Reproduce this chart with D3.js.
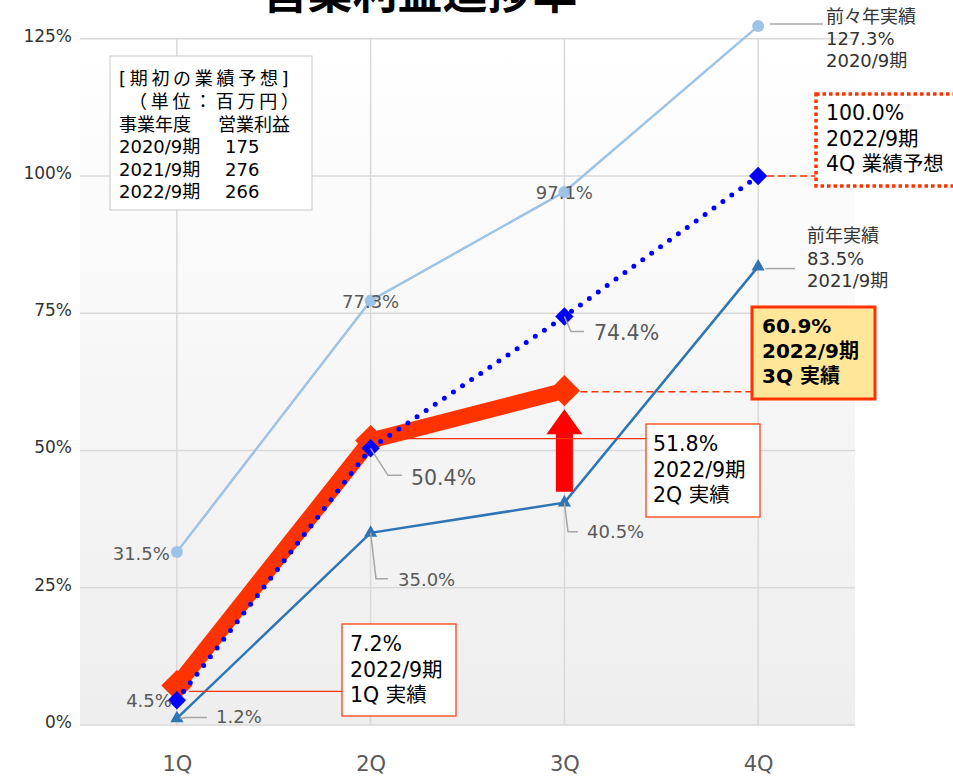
<!DOCTYPE html>
<html>
<head>
<meta charset="utf-8">
<script src="https://cdn.jsdelivr.net/npm/d3@7"></script>
<style>
  body { margin: 0; background: #fff; }
  svg text { font-family: "DejaVu Sans", "Noto Sans CJK JP", sans-serif; }
  svg text.title { font-family: "Noto Sans CJK JP", sans-serif; }
</style>
</head>
<body>
<div id="chart"></div>
<script>
// 営業利益進捗率 (progress rate vs. full-year forecast)

var quarters = ["1Q", "2Q", "3Q", "4Q"];
var yTicks = [0, 25, 50, 75, 100, 125];

var prev2 = [31.5, 77.3, 97.1, 127.3];   // 前々年実績 2020/9期
var prev1 = [1.2, 35.0, 40.5, 83.5];     // 前年実績 2021/9期
var plan = [4.5, 50.4, 74.4, 100.0];     // 2022/9期 業績予想
var actual = [7.2, 51.8, 60.9];          // 2022/9期 実績

var planYears = ["2020/9期", "2021/9期", "2022/9期"];
var planProfit = [175, 276, 266];

var W = 953, H = 778;
var plotL = 80, plotR = 855, plotB = 725;

var svg = d3.select("#chart")
    .append("svg")
    .attr("width", W)
    .attr("height", H);

var x = d3.scalePoint().domain(quarters).range([plotL, plotR]).padding(0.5);
var y = d3.scaleLinear().domain([0, 125]).range([plotB, plotB - 125 * 5.49]);

var orange = "#FF3300";

// background gradient
var grad = svg.append("defs").append("linearGradient")
    .attr("id", "bg").attr("x1", 0).attr("y1", 0).attr("x2", 0).attr("y2", 1);
grad.append("stop").attr("offset", "0%").attr("stop-color", "#ffffff");
grad.append("stop").attr("offset", "100%").attr("stop-color", "#eeeeee");

svg.append("rect")
    .attr("x", plotL).attr("y", y(125))
    .attr("width", plotR - plotL).attr("height", plotB - y(125))
    .attr("fill", "url(#bg)");

// title (cut off at the top, as in the source)
svg.append("text")
    .attr("class", "title")
    .attr("x", 420).attr("y", 9)
    .attr("text-anchor", "middle")
    .attr("font-size", 45).attr("font-weight", "bold")
    .attr("fill", "#000")
    .text("営業利益進捗率");

// grid
svg.selectAll(".hgrid").data(yTicks).enter().append("line")
    .attr("x1", plotL).attr("x2", plotR)
    .attr("y1", d => y(d)).attr("y2", d => y(d))
    .attr("stroke", "#d9d9d9").attr("stroke-width", 1.5);

svg.selectAll(".vgrid").data(quarters).enter().append("line")
    .attr("x1", d => x(d)).attr("x2", d => x(d))
    .attr("y1", y(125)).attr("y2", plotB)
    .attr("stroke", "#d9d9d9").attr("stroke-width", 1.5);

// axes
var yAxis = d3.axisLeft(y).tickValues(yTicks).tickSize(0).tickPadding(8).tickFormat(d => d + "%");
var gy = svg.append("g").attr("transform", "translate(" + plotL + ",0)").call(yAxis);
gy.select(".domain").remove();
gy.selectAll("text").attr("y", -3).attr("font-size", 17).attr("fill", "#333");

var xAxis = d3.axisBottom(x).tickSize(0).tickPadding(31);
var gx = svg.append("g").attr("transform", "translate(0," + plotB + ")").call(xAxis);
gx.select(".domain").remove();
gx.selectAll("text").attr("font-size", 21).attr("fill", "#595959");

// legend box (期初の業績予想)
svg.append("rect")
    .attr("x", 110).attr("y", 56).attr("width", 202).attr("height", 154)
    .attr("fill", "#fff").attr("stroke", "#c8c8c8");
var legend = svg.append("g").attr("font-size", 18).attr("fill", "#000");
legend.append("text").attr("x", 119).attr("y", 85).attr("letter-spacing", 3.7).text("[期初の業績予想]");
legend.append("text").attr("x", 129).attr("y", 108).attr("letter-spacing", 3.7).text("（単位：百万円）");
legend.append("text").attr("x", 119).attr("y", 131).text("事業年度");
legend.append("text").attr("x", 218).attr("y", 131).text("営業利益");
legend.selectAll(".ly").data(planYears).enter().append("text")
    .attr("x", 119).attr("y", (d, i) => 153 + i * 22.5).text(d => d);
legend.selectAll(".lv").data(planProfit).enter().append("text")
    .attr("x", 225).attr("y", (d, i) => 153 + i * 22.5).text(d => d);

var line = d3.line().x((d, i) => x(quarters[i])).y(d => y(d));

// 前々年実績
svg.append("path").datum(prev2).attr("d", line)
    .attr("fill", "none").attr("stroke", "#9DC3E6").attr("stroke-width", 2.5);
svg.selectAll(".p2").data(prev2).enter().append("circle")
    .attr("cx", (d, i) => x(quarters[i])).attr("cy", d => y(d)).attr("r", 6)
    .attr("fill", "#9DC3E6");

// 前年実績
svg.append("path").datum(prev1).attr("d", line)
    .attr("fill", "none").attr("stroke", "#2E75B6").attr("stroke-width", 2.5);
svg.selectAll(".p1").data(prev1).enter().append("path")
    .attr("d", d3.symbol().type(d3.symbolTriangle).size(75))
    .attr("transform", (d, i) => "translate(" + x(quarters[i]) + "," + y(d) + ")")
    .attr("fill", "#2E75B6");

// 実績 (thick)
svg.append("path").datum(actual).attr("d", line)
    .attr("fill", "none").attr("stroke", orange).attr("stroke-width", 16);
svg.selectAll(".ac").data(actual).enter().append("rect")
    .attr("x", -11).attr("y", -11).attr("width", 22).attr("height", 22)
    .attr("transform", (d, i) => "translate(" + x(quarters[i]) + "," + y(d) + ") rotate(45)")
    .attr("fill", orange);

// 業績予想 (dotted)
svg.append("path").datum(plan).attr("d", line)
    .attr("fill", "none").attr("stroke", "#0000FF").attr("stroke-width", 5)
    .attr("stroke-linecap", "round").attr("stroke-dasharray", "0 11");
svg.selectAll(".pl").data(plan).enter().append("rect")
    .attr("x", -6.5).attr("y", -6.5).attr("width", 13).attr("height", 13)
    .attr("transform", (d, i) => "translate(" + x(quarters[i]) + "," + y(d) + ") rotate(45)")
    .attr("fill", "#0000FF");

// red arrow between 2021 3Q and 2022 3Q
var ax = x("3Q");
var arrowTop = y(57.5), arrowBot = y(42.5);
svg.append("path")
    .attr("d", "M" + (ax - 8.5) + "," + arrowBot + "V" + (arrowTop + 25) + "H" + (ax - 18) +
        "L" + ax + "," + arrowTop + "L" + (ax + 18) + "," + (arrowTop + 25) + "H" + (ax + 8.5) +
        "V" + arrowBot + "Z")
    .attr("fill", "#FF0000");

// data labels (gray)
var gray = "#595959", leadGray = "#a6a6a6";
function lab(tx, ty, t, anchor, size) {
    svg.append("text").attr("x", tx).attr("y", ty)
        .attr("text-anchor", anchor || "start")
        .attr("font-size", size || 18).attr("fill", gray).text(t);
}
function lead(pts) {
    svg.append("path").attr("d", d3.line()(pts))
        .attr("fill", "none").attr("stroke", leadGray).attr("stroke-width", 1.5);
}
var pct = d => d.toFixed(1) + "%";

lab(x("1Q") - 7, y(prev2[0]) + 8, pct(prev2[0]), "end");
lab(x("2Q"), y(prev2[1]) + 7, pct(prev2[1]), "middle");
lab(x("3Q"), y(prev2[2]) + 7, pct(prev2[2]), "middle");

lab(x("1Q") - 5, y(plan[0]) + 7, pct(plan[0]), "end");
lead([[x("2Q"), y(plan[1])], [388, y(plan[1]) + 27], [402, y(plan[1]) + 27]]);
lab(411, y(plan[1]) + 37, pct(plan[1]), "start", 20.5);
lead([[x("3Q"), y(plan[2])], [571, y(plan[2]) + 15], [584, y(plan[2]) + 15]]);
lab(594, y(plan[2]) + 23, pct(plan[2]), "start", 20.5);

lead([[x("1Q") + 3, y(prev1[0])], [186, y(prev1[0]) - 1], [207, y(prev1[0]) - 1]]);
lab(216, y(prev1[0]) + 5, pct(prev1[0]));
lead([[x("2Q"), y(prev1[1])], [376, y(prev1[1]) + 46], [388, y(prev1[1]) + 46]]);
lab(398, y(prev1[1]) + 53, pct(prev1[1]));
lead([[x("3Q"), y(prev1[2])], [568, y(prev1[2]) + 29], [578, y(prev1[2]) + 29]]);
lab(587, y(prev1[2]) + 35, pct(prev1[2]));

// callouts
function lines(tx, ty, arr, size, weight, fill, gap) {
    svg.selectAll(null).data(arr).enter().append("text")
        .attr("x", tx).attr("y", (d, i) => ty + i * gap)
        .attr("font-size", size).attr("font-weight", weight).attr("fill", fill)
        .text(d => d);
}

// 前々年実績 4Q
lead([[x("4Q") + 12, y(prev2[3]) - 2], [823, y(prev2[3]) - 2]]);
lines(826, 23, ["前々年実績", pct(prev2[3]), planYears[0]], 18, "normal", "#333", 22);

// 前年実績 4Q
lead([[x("4Q") + 7, y(prev1[3]) + 2], [795, y(prev1[3]) + 2]]);
lines(807, 242, ["前年実績", pct(prev1[3]), planYears[1]], 18, "normal", "#333", 22.5);

// 4Q 業績予想 box
svg.append("line")
    .attr("x1", x("4Q") + 9).attr("x2", 815).attr("y1", y(plan[3])).attr("y2", y(plan[3]))
    .attr("stroke", orange).attr("stroke-width", 1.5).attr("stroke-dasharray", "7 4");
svg.append("rect").attr("x", 816).attr("y", 94).attr("width", 140).attr("height", 92)
    .attr("fill", "#fff").attr("stroke", orange).attr("stroke-width", 3.5).attr("stroke-dasharray", "3.5 3");
lines(826, 120, [pct(plan[3]), planYears[2], "4Q 業績予想"], 20.5, "normal", "#000", 25.5);

// 3Q 実績 box
svg.append("line")
    .attr("x1", x("3Q") + 16).attr("x2", 751).attr("y1", y(actual[2]) + 1).attr("y2", y(actual[2]) + 1)
    .attr("stroke", orange).attr("stroke-width", 1.5).attr("stroke-dasharray", "7 4");
svg.append("rect").attr("x", 752).attr("y", 307).attr("width", 123).attr("height", 92)
    .attr("fill", "#FFE699").attr("stroke", orange).attr("stroke-width", 3);
lines(762, 333, [pct(actual[2]), planYears[2], "3Q 実績"], 20, "bold", "#000", 25);

// 2Q 実績 box
svg.append("line")
    .attr("x1", x("2Q") + 12).attr("x2", 646).attr("y1", y(actual[1]) - 2).attr("y2", y(actual[1]) - 2)
    .attr("stroke", orange).attr("stroke-width", 1.2);
svg.append("rect").attr("x", 646).attr("y", 424).attr("width", 114).attr("height", 93)
    .attr("fill", "#fff").attr("stroke", orange).attr("stroke-width", 1.2);
lines(653, 451, [pct(actual[1]), planYears[2], "2Q 実績"], 20.5, "normal", "#000", 25.5);

// 1Q 実績 box
svg.append("line")
    .attr("x1", x("1Q") + 12).attr("x2", 342).attr("y1", y(actual[0]) + 6).attr("y2", y(actual[0]) + 6)
    .attr("stroke", orange).attr("stroke-width", 1.2);
svg.append("rect").attr("x", 342).attr("y", 624).attr("width", 114).attr("height", 92)
    .attr("fill", "#fff").attr("stroke", orange).attr("stroke-width", 1.2);
lines(350, 651, [pct(actual[0]), planYears[2], "1Q 実績"], 20.5, "normal", "#000", 25.5);
</script>
</body>
</html>
